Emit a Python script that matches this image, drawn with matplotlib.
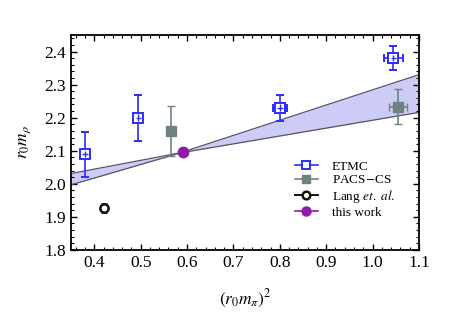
import matplotlib.pyplot as plt
from matplotlib.ticker import MultipleLocator
from matplotlib.lines import Line2D

plt.rcParams['font.family'] = ['Liberation Serif', 'DejaVu Serif']
plt.rcParams['mathtext.fontset'] = 'stix'

# ETMC
etmc_x = [0.38, 0.495, 0.80, 1.045]
etmc_y = [2.09, 2.20, 2.23, 2.38]
etmc_yerr = [0.068, 0.07, 0.04, 0.037]
etmc_xerr = [0.0, 0.0, 0.015, 0.02]

# PACS-CS
pacs_x = [0.565, 1.055]
pacs_y = [2.16, 2.233]
pacs_yerr = [0.075, 0.053]
pacs_xerr = [0.0, 0.02]

# Lang et. al.
lang_x = [0.42]
lang_y = [1.927]
lang_yerr = [0.012]

# this work
tw_x = [0.592]
tw_y = [2.097]
tw_yerr = [0.006]

# fit band (edges)
band_x = [0.35, 0.575, 1.1]
band_a = [2.031, 2.091, 2.216]
band_b = [1.997, 2.089, 2.330]

fig, ax = plt.subplots(figsize=(4.5, 3.18), dpi=100)
fig.subplots_adjust(left=0.158, right=0.931, top=0.89, bottom=0.214)

ax.fill_between(band_x, band_a, band_b, color='#ccccf6', lw=0, zorder=1)
ax.plot(band_x, band_a, color='#555566', lw=0.9, zorder=2)
ax.plot(band_x, band_b, color='#555566', lw=0.9, zorder=2)

blue = '#2b2bff'
gray = '#6e8282'
purple = '#8e1aa8'
black = '#111111'

ax.errorbar(etmc_x, etmc_y, yerr=etmc_yerr, xerr=etmc_xerr, fmt='s', ms=7,
            mfc='white', mec=blue, mew=1.4, color=blue, elinewidth=1.2, capsize=3,
            zorder=4)
# lines drawn through the open squares
ax.errorbar(etmc_x, etmc_y, yerr=0.01, xerr=0.006, fmt='none', ecolor=blue,
            elinewidth=1.0, zorder=5)
ax.errorbar(pacs_x, pacs_y, yerr=pacs_yerr, xerr=pacs_xerr, fmt='s', ms=6.5,
            color=gray, elinewidth=1.2, capsize=3, zorder=4)
ax.errorbar(lang_x, lang_y, yerr=lang_yerr, fmt='o', ms=6, mfc='white',
            mec=black, mew=1.8, color=black, elinewidth=1.4, capsize=2,
            zorder=4)
ax.errorbar(tw_x, tw_y, yerr=tw_yerr, fmt='o', ms=7.5, color=purple,
            elinewidth=1.2, capsize=0, zorder=4)

ax.set_xlim(0.35, 1.1)
ax.set_ylim(1.8, 2.45)
ax.xaxis.set_major_locator(MultipleLocator(0.1))
ax.xaxis.set_minor_locator(MultipleLocator(0.02))
ax.yaxis.set_major_locator(MultipleLocator(0.1))
ax.yaxis.set_minor_locator(MultipleLocator(0.02))
ax.xaxis.set_major_formatter(plt.FormatStrFormatter('%.1f'))
ax.yaxis.set_major_formatter(plt.FormatStrFormatter('%.1f'))
ax.tick_params(which='both', direction='in', top=True, right=True, labelsize=12.5)
ax.tick_params(which='major', length=4.5, width=1.0)
ax.tick_params(which='minor', length=2.2, width=0.8)
for s in ax.spines.values():
    s.set_linewidth(1.3)

ax.set_xlabel(r'$(r_0 m_\pi)^2$', fontsize=12.5, labelpad=12)
ax.set_ylabel(r'$r_0 m_\rho$', fontsize=12.5, labelpad=8)

handles = [
    Line2D([], [], color=blue, lw=1.2, marker='s', ms=5.5, mfc='white', mec=blue, mew=1.4),
    Line2D([], [], color=gray, lw=1.2, marker='s', ms=5.5),
    Line2D([], [], color=black, lw=1.4, marker='o', ms=5.5, mfc='white', mec=black, mew=1.8),
    Line2D([], [], color=purple, lw=1.2, marker='o', ms=6.5),
]
labels = ['ETMC', 'PACS$-$CS', 'Lang $et.$ $al.$', 'this work']
ax.legend(handles, labels, loc='lower left', bbox_to_anchor=(0.61, 0.09), frameon=False,
          fontsize=9.5, handlelength=1.7, handletextpad=1.1, labelspacing=0.12)

fig.savefig('out.png', dpi=100)
